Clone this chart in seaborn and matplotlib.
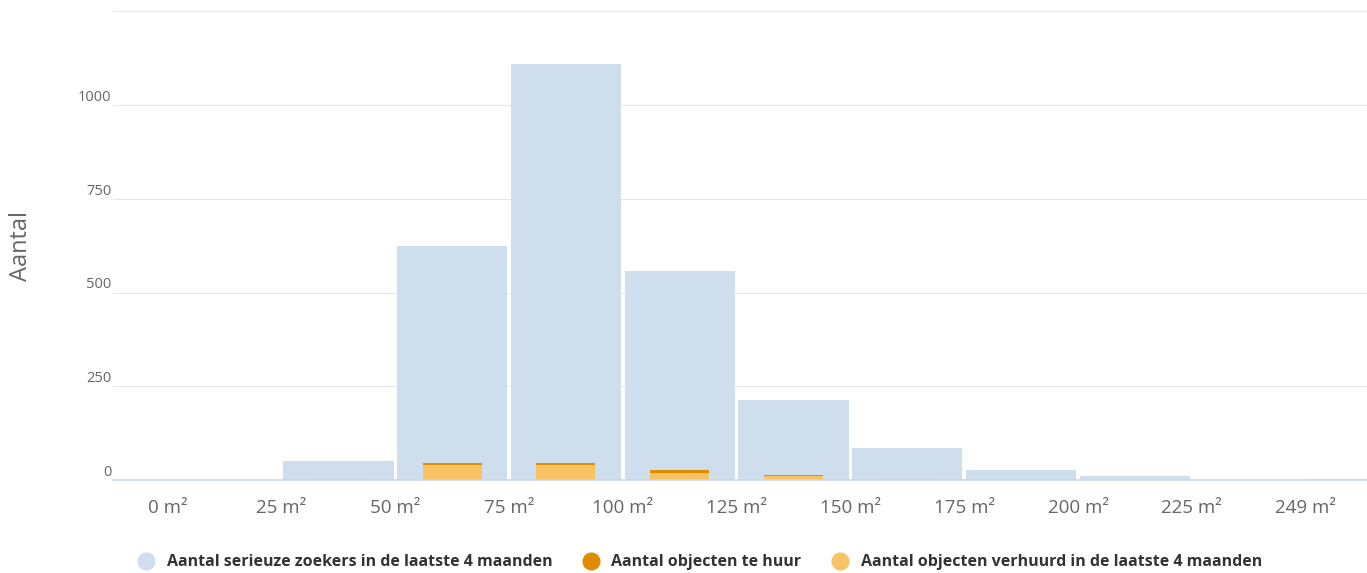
import numpy as np
import pandas as pd
import matplotlib.pyplot as plt
from matplotlib.lines import Line2D
import seaborn as sns

# bins of 25 m2, last one is 250+
bins = ["0-25", "25-50", "50-75", "75-100", "100-125", "125-150",
        "150-175", "175-200", "200-225", "225-250", "250+"]
zoekers = [0, 50, 624, 1109, 557, 213, 85, 27, 11, 0, 2]
te_huur = [0, 4, 45, 45, 26, 14, 4, 0, 0, 0, 0]
verhuurd = [0, 4, 41, 41, 20, 11, 4, 0, 0, 0, 0]
tick_labels = ["0 m²", "25 m²", "50 m²", "75 m²", "100 m²", "125 m²",
               "150 m²", "175 m²", "200 m²", "225 m²", "249 m²"]
series_names = ["Aantal serieuze zoekers in de laatste 4 maanden",
                "Aantal objecten te huur",
                "Aantal objecten verhuurd in de laatste 4 maanden"]

c_blue = "#cfdeec"
c_dark = "#e08c00"
c_light = "#f8c363"

sns.set_style("white")
plt.rcParams['font.family'] = ['Open Sans', 'DejaVu Sans']

df = pd.DataFrame({"bin": bins, "zoekers": zoekers,
                   "te_huur": te_huur, "verhuurd": verhuurd})

fig = plt.figure(figsize=(13.67, 5.73), dpi=100)
ax = fig.add_axes([113 / 1367, 93 / 573, 1 - 113 / 1367, (480 - 11.25) / 573])

# brede blauwe staven, smalle oranje staven eroverheen
sns.barplot(data=df, x="bin", y="zoekers", order=bins, color=c_blue,
            saturation=1, width=0.97, linewidth=0, ax=ax, zorder=2)
sns.barplot(data=df, x="bin", y="te_huur", order=bins, color=c_dark,
            saturation=1, width=0.52, linewidth=0, ax=ax, zorder=3)
sns.barplot(data=df, x="bin", y="verhuurd", order=bins, color=c_light,
            saturation=1, width=0.52, linewidth=0, ax=ax, zorder=4)

ax.set_xlim(-0.98, 10.04)
ax.set_ylim(0, 1250)

# x-as: ticks op de klassegrenzen
ax.set_xticks(np.arange(len(tick_labels)) - 0.5)
ax.set_xticklabels(tick_labels)
ax.tick_params(axis="x", direction="out", length=9.4, width=0.8,
               color="#ccd6eb", labelsize=13.5, labelcolor="#666666", pad=4)

# y-as: labels boven de gridlijnen
ax.set_yticks([0, 250, 500, 750, 1000, 1250])
ax.set_yticklabels(["0", "250", "500", "750", "1000", ""])
ax.tick_params(axis="y", length=0, labelsize=10.5, labelcolor="#666666", pad=1)
for lab in ax.get_yticklabels():
    lab.set_va("bottom")

ax.grid(axis="y", color="#e6e6e6", linewidth=0.8)
ax.set_axisbelow(True)
for s in ["top", "right", "left"]:
    ax.spines[s].set_visible(False)
ax.spines["bottom"].set_color("#ccd6eb")
ax.spines["bottom"].set_linewidth(1.2)
ax.spines["bottom"].set_zorder(5)

ax.set_xlabel("")
ax.set_ylabel("Aantal", fontsize=17, color="#666666")
ax.yaxis.set_label_coords(-(113 - 33) / (1367 - 113), 0.5)

handles = [Line2D([], [], marker="o", linestyle="", markersize=12,
                  markerfacecolor=c, markeredgecolor=c)
           for c in [c_blue, c_dark, c_light]]
leg = fig.legend(handles, series_names, loc="center", ncol=3,
                 bbox_to_anchor=(0.509, 0.019), frameon=False,
                 handletextpad=0.3, columnspacing=1.4,
                 prop={"size": 11.5, "weight": "bold"})
for t in leg.get_texts():
    t.set_color("#333333")

plt.savefig("out.png", dpi=100)
